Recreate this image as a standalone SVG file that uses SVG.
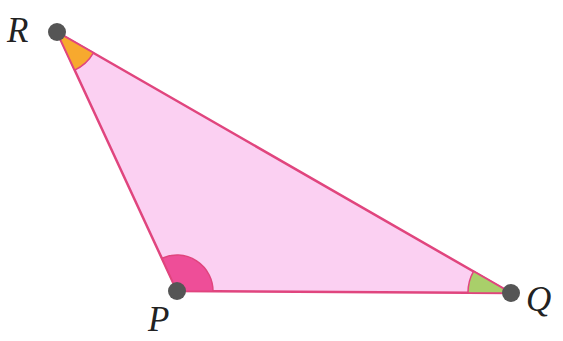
<svg xmlns="http://www.w3.org/2000/svg" width="563" height="341" viewBox="0 0 563 341">
<style>
.lbl{font-family:"Liberation Serif",serif;font-style:italic;font-size:35px;fill:#222}
.dot{fill:#555}
.arc{stroke:#e0457e;stroke-width:1.5}
</style>
<rect width="563" height="341" fill="#ffffff"/>
<g id="triangle">
<polygon points="57,32 177,291 511,293" fill="#fbd0f2" stroke="#e0457e" stroke-width="2.5" stroke-linejoin="round"/>
</g>
<g id="angles">
<path class="arc" d="M57,32 L74.7,70.1 A42,42 0 0 0 93.4,52.9 Z" fill="#f7a92e"/>
<path class="arc" d="M177,291 L162.1,258.3 A36,36 0 0 1 213,291.2 Z" fill="#ee4e98"/>
<path class="arc" d="M511,293 L473.5,271.3 A43,43 0 0 0 468,292.7 Z" fill="#a9cf6a"/>
</g>
<g id="R"><circle class="dot" cx="57" cy="32" r="9"/><text class="lbl" x="7" y="42">R</text></g>
<g id="P"><circle class="dot" cx="177" cy="291" r="9"/><text class="lbl" x="148" y="331">P</text></g>
<g id="Q"><circle class="dot" cx="511" cy="293" r="9"/><text class="lbl" x="526" y="311">Q</text></g>
</svg>
